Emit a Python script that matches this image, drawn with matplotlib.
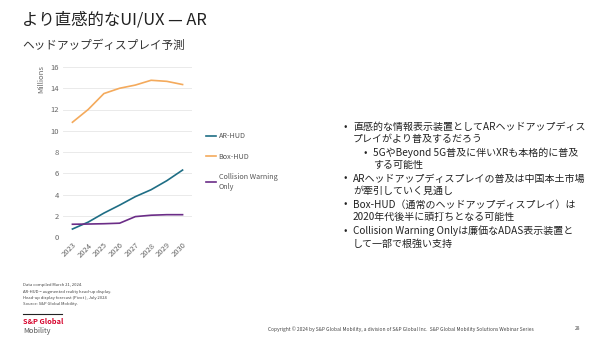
import matplotlib.pyplot as plt

plt.rcParams['font.family'] = ['Noto Sans CJK JP', 'DejaVu Sans']

years = ['2023', '2024', '2025', '2026', '2027', '2028', '2029', '2030']
ar_hud = [0.75, 1.4, 2.25, 3.0, 3.8, 4.45, 5.3, 6.3]
box_hud = [10.8, 12.0, 13.5, 14.0, 14.3, 14.75, 14.65, 14.35]
collision_only = [1.2, 1.22, 1.25, 1.3, 1.92, 2.05, 2.1, 2.1]

series_names = ['AR-HUD', 'Box-HUD', 'Collision Warning\nOnly']
series_colors = ['#1f6e85', '#f4aa5c', '#6b2d87']

bullets = [
    (0, '直感的な情報表示装置としてARヘッドアップディス\nプレイがより普及するだろう'),
    (1, '5GやBeyond 5G普及に伴いXRも本格的に普及\nする可能性'),
    (0, 'ARヘッドアップディスプレイの普及は中国本土市場\nが牽引していく見通し'),
    (0, 'Box-HUD（通常のヘッドアップディスプレイ）は\n2020年代後半に頭打ちとなる可能性'),
    (0, 'Collision Warning Onlyは廉価なADAS表示装置と\nして一部で根強い支持'),
]

notes = ['Data compiled March 21, 2024.',
         'AR-HUD = augmented reality head-up display.',
         'Head-up display forecast (Pivot ), July 2024',
         'Source: S&P Global Mobility.']

fig = plt.figure(figsize=(6.02, 3.37), dpi=100)
fig.patch.set_facecolor('white')

fig.text(22 / 602, 1 - 20 / 337, 'より直感的なUI/UX — AR', fontsize=11.8,
         color='#222222', va='center', ha='left')
fig.text(22 / 602, 1 - 45 / 337, 'ヘッドアップディスプレイ予測', fontsize=8.4,
         color='#333333', va='center', ha='left')

ax = fig.add_axes([63 / 602, 1 - 237 / 337, 129 / 602, 170 / 337])
x = range(len(years))
for vals, name, col in zip([ar_hud, box_hud, collision_only], series_names, series_colors):
    ax.plot(x, vals, color=col, lw=1.2, label=name)

ax.set_ylim(0, 16)
ax.set_xlim(-0.6, len(years) - 0.4)
ax.set_yticks(range(0, 17, 2))
ax.set_xticks(list(x))
ax.set_xticklabels(years, rotation=45, ha='right', rotation_mode='anchor')
ax.tick_params(labelsize=5.5, colors='#666666', length=0, pad=3)
ax.grid(axis='y', color='#e6e6e6', lw=0.6)
ax.set_axisbelow(True)
for s in ax.spines.values():
    s.set_visible(False)
ax.set_ylabel('Millions', fontsize=5.5, color='#666666', labelpad=4)
ax.yaxis.set_label_coords(-0.14, 0.93)

leg = ax.legend(loc='upper left', bbox_to_anchor=(1.06, 0.655), frameon=False,
                fontsize=5.2, handlelength=1.4, handletextpad=0.3,
                labelspacing=1.75, labelcolor='#555555')

# bullet list on the right
y_px = 121.5
for level, txt in bullets:
    bx = 343 + level * 20
    fig.text(bx / 602, 1 - y_px / 337, '•', fontsize=7.2, color='#222222',
             va='top', ha='left')
    fig.text((bx + 10) / 602, 1 - y_px / 337, txt, fontsize=7.2, color='#222222',
             va='top', ha='left', linespacing=1.3)
    y_px += 26

for i, n in enumerate(notes):
    fig.text(23 / 602, 1 - (285 + i * 6.5) / 337, n, fontsize=3, color='#444444',
             va='center', ha='left')

fig.add_artist(plt.Line2D([23 / 602, 62 / 602], [1 - 314 / 337, 1 - 314 / 337],
                          color='#222222', lw=0.8))
fig.text(23 / 602, 1 - 322 / 337, 'S&P Global', fontsize=5.3, color='#d6002a',
         va='center', ha='left', fontweight='bold')
fig.text(23 / 602, 1 - 331 / 337, 'Mobility', fontsize=5.3, color='#555555',
         va='center', ha='left')

fig.text(268 / 602, 1 - 329 / 337,
         'Copyright © 2024 by S&P Global Mobility, a division of S&P Global Inc.  '
         'S&P Global Mobility Solutions Webinar Series',
         fontsize=3.5, color='#444444', va='center', ha='left')
fig.text(575 / 602, 1 - 329 / 337, '28', fontsize=3.5, color='#444444',
         va='center', ha='left')

fig.savefig('out.png', dpi=100)
